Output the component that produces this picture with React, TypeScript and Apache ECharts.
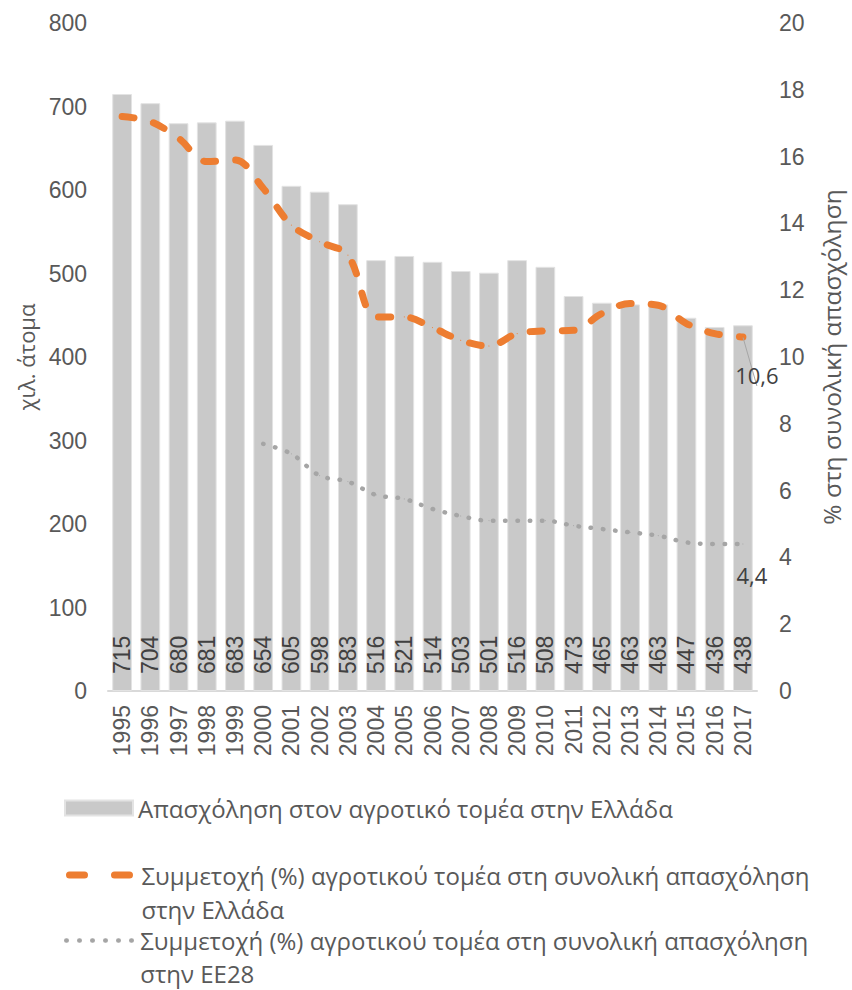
import React, { useEffect, useRef } from "react";
import * as echarts from "echarts";

const years = ["1995","1996","1997","1998","1999","2000","2001","2002","2003","2004","2005","2006","2007","2008","2009","2010","2011","2012","2013","2014","2015","2016","2017"];
const employment = [715,704,680,681,683,654,605,598,583,516,521,514,503,501,516,508,473,465,463,463,447,436,438];
const shareGreece = [17.2,17.05,16.55,15.85,15.9,15.05,13.95,13.45,13.05,11.2,11.2,10.88,10.5,10.33,10.7,10.78,10.8,11.3,11.6,11.55,11.0,10.7,10.6];
const shareEU28: (number | string)[] = ["-","-","-","-","-",7.4,7.1,6.45,6.27,5.87,5.75,5.45,5.24,5.1,5.1,5.1,4.95,4.85,4.75,4.65,4.45,4.4,4.4];

const leftTicks = { min: 0, max: 800, interval: 100 };
const rightTicks = { min: 0, max: 20, interval: 2 };

const nameBar = "Απασχόληση στον αγροτικό τομέα στην Ελλάδα";
const nameGR = "Συμμετοχή (%) αγροτικού τομέα στη συνολική απασχόληση στην Ελλάδα";
const nameEU = "Συμμετοχή (%) αγροτικού τομέα στη συνολική απασχόληση στην ΕΕ28";
const leftAxisName = "χιλ. άτομα";
const rightAxisName = "% στη συνολική απασχόληση";

const NUM_FONT = "'Liberation Sans', Arial, sans-serif";
const TXT_FONT = "'Open Sans', 'Noto Sans', sans-serif";
const TXT = "#595959";
const DARK = "#404040";
const ORANGE = "#ED7D31";
const GREY_DOT = "#A5A5A5";
const BAR = "#C9C9C9";

const fmtComma = (v: number) => String(v).replace(".", ",");

export default function App() {
  const ref = useRef<HTMLDivElement>(null);
  useEffect(() => {
    if (!ref.current) return;
    const chart = echarts.init(ref.current, undefined, { renderer: "svg" });
    const last = years.length - 1;
    const grData = shareGreece.map((v, i) =>
      i === last
        ? {
            value: v,
            label: {
              show: true,
              position: "inside",
              offset: [14, 38],
              formatter: () => fmtComma(v),
              fontSize: 22,
              fontFamily: TXT_FONT,
              color: DARK,
            },
            labelLine: { show: true, lineStyle: { color: "#A6A6A6", width: 1 } },
          }
        : v
    );
    const euData = shareEU28.map((v, i) =>
      i === last
        ? {
            value: v,
            label: {
              show: true,
              position: "inside",
              offset: [9, 31],
              formatter: () => fmtComma(v as number),
              fontSize: 22,
              fontFamily: TXT_FONT,
              color: DARK,
            },
          }
        : v
    );
    const wrap = (n: string) => "\n" + n.replace(" στην ", "\nστην ");
    chart.setOption({
      animation: false,
      grid: { left: 108, right: 89, top: 23, bottom: 299, containLabel: false },
      legend: [
        {
          data: [nameBar],
          left: 64,
          top: 793,
          padding: 0,
          icon: "rect",
          itemWidth: 68,
          itemHeight: 15,
          selectedMode: false,
          textStyle: { fontSize: 24, color: TXT, fontFamily: TXT_FONT, lineHeight: 30 },
        },
        {
          data: [nameGR],
          left: 64,
          top: 824,
          padding: 0,
          itemWidth: 69,
          itemHeight: 14,
          selectedMode: false,
          formatter: wrap,
          itemStyle: { color: "rgba(0,0,0,0)", opacity: 0 },
          lineStyle: { color: ORANGE, width: 7, type: [15, 30], dashOffset: 42.5, cap: "round" },
          textStyle: { fontSize: 24, color: TXT, fontFamily: TXT_FONT, lineHeight: 34 },
        },
        {
          data: [nameEU],
          left: 64,
          top: 891,
          padding: 0,
          itemWidth: 69,
          itemHeight: 14,
          selectedMode: false,
          formatter: wrap,
          itemStyle: { color: "rgba(0,0,0,0)", opacity: 0 },
          lineStyle: { color: GREY_DOT, width: 4.5, type: [0.5, 12.5], cap: "round" },
          textStyle: { fontSize: 24, color: TXT, fontFamily: TXT_FONT, lineHeight: 33 },
        },
      ],
      xAxis: {
        type: "category",
        data: years,
        axisLine: { show: true, lineStyle: { color: "#D9D9D9", width: 2 } },
        axisTick: { show: false },
        axisLabel: { rotate: 90, margin: 14, interval: 0, fontSize: 23, color: TXT, fontFamily: NUM_FONT },
      },
      yAxis: [
        {
          type: "value",
          ...leftTicks,
          splitLine: { show: false },
          axisLine: { show: false },
          axisTick: { show: false },
          axisLabel: { margin: 21, fontSize: 23, color: TXT, fontFamily: NUM_FONT },
          name: leftAxisName,
          nameLocation: "middle",
          nameGap: 71,
          nameTextStyle: { fontSize: 22, color: TXT, fontFamily: TXT_FONT },
        },
        {
          type: "value",
          position: "right",
          ...rightTicks,
          splitLine: { show: false },
          axisLine: { show: false },
          axisTick: { show: false },
          axisLabel: { margin: 22, fontSize: 23, color: TXT, fontFamily: NUM_FONT },
          name: rightAxisName,
          nameLocation: "middle",
          nameGap: 62,
          nameTextStyle: { fontSize: 24.5, color: TXT, fontFamily: TXT_FONT },
        },
      ],
      series: [
        {
          name: nameBar,
          type: "bar",
          data: employment,
          barWidth: "70%",
          itemStyle: { color: BAR, borderColor: "#E3E3E3", borderWidth: 1 },
          label: {
            show: true,
            position: "insideBottom",
            rotate: 90,
            align: "left",
            verticalAlign: "middle",
            distance: 17,
            fontSize: 23,
            color: DARK,
            fontFamily: NUM_FONT,
          },
        },
        {
          name: nameGR,
          type: "line",
          yAxisIndex: 1,
          data: grData,
          smooth: 0.35,
          symbol: "circle",
          symbolSize: 1,
          itemStyle: { color: ORANGE },
          lineStyle: { color: ORANGE, width: 7, type: [12, 20], cap: "round" },
          label: { show: false },
          z: 3,
        },
        {
          name: nameEU,
          type: "line",
          yAxisIndex: 1,
          data: euData,
          smooth: 0.35,
          symbol: "circle",
          symbolSize: 1,
          itemStyle: { color: GREY_DOT },
          lineStyle: { color: GREY_DOT, width: 4.5, type: [0.5, 11.8], cap: "round" },
          label: { show: false },
          z: 3,
        },
      ],
    });
    return () => chart.dispose();
  }, []);
  return <div ref={ref} style={{ position: "absolute", left: 0, top: 0, width: 852, height: 990 }} />;
}
